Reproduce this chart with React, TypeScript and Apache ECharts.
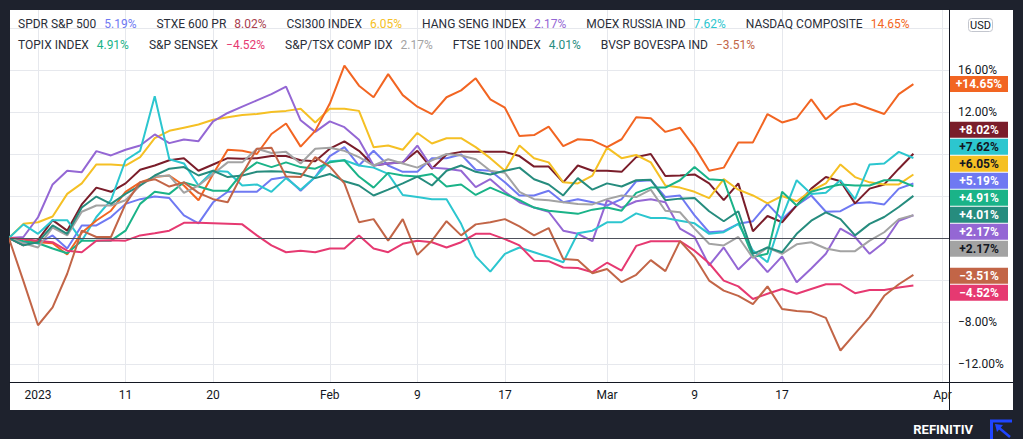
import React, { useEffect, useRef } from 'react';
import * as echarts from 'echarts';

// US trading sessions shown on the time scale (last two are future slots up to "Apr")
const sessions = [
  '2022-12-29', '2022-12-30', '2023-01-03', '2023-01-04', '2023-01-05', '2023-01-06', '2023-01-09', '2023-01-10',
  '2023-01-11', '2023-01-12', '2023-01-13', '2023-01-17', '2023-01-18', '2023-01-19', '2023-01-20', '2023-01-23',
  '2023-01-24', '2023-01-25', '2023-01-26', '2023-01-27', '2023-01-30', '2023-01-31', '2023-02-01', '2023-02-02',
  '2023-02-03', '2023-02-06', '2023-02-07', '2023-02-08', '2023-02-09', '2023-02-10', '2023-02-13', '2023-02-14',
  '2023-02-15', '2023-02-16', '2023-02-17', '2023-02-21', '2023-02-22', '2023-02-23', '2023-02-24', '2023-02-27',
  '2023-02-28', '2023-03-01', '2023-03-02', '2023-03-03', '2023-03-06', '2023-03-07', '2023-03-08', '2023-03-09',
  '2023-03-10', '2023-03-13', '2023-03-14', '2023-03-15', '2023-03-16', '2023-03-17', '2023-03-20', '2023-03-21',
  '2023-03-22', '2023-03-23', '2023-03-24', '2023-03-27', '2023-03-28', '2023-03-29', '2023-03-30', '2023-03-31',
  '2023-04-03',
];

const xTickDates = ['2023-01-03', '2023-01-11', '2023-01-20', '2023-02-01', '2023-02-09', '2023-02-17', '2023-03-01', '2023-03-09', '2023-03-17', '2023-04-03'];
const xTickLabels = ['2023', '11', '20', 'Feb', '9', '17', 'Mar', '9', '17', 'Apr'];
const yTickLabelsShown = [16, 12, -8, -12];

const seriesNames = [
  'SPDR S&P 500', 'STXE 600 PR', 'CSI300 INDEX', 'HANG SENG INDEX', 'MOEX RUSSIA IND', 'NASDAQ COMPOSITE',
  'TOPIX INDEX', 'S&P SENSEX', 'S&P/TSX COMP IDX', 'FTSE 100 INDEX', 'BVSP BOVESPA IND',
];
const seriesColors = ['#6f79f2', '#7a1d2a', '#f5c024', '#9467d4', '#2cc6cf', '#f26522', '#1ab388', '#e63971', '#a3a3a3', '#268c7e', '#c26547'];
const legendValueColors = ['#6f79f2', '#a9404f', '#f5c024', '#9467d4', '#2cc6cf', '#f26522', '#1ab388', '#e63971', '#a3a3a3', '#268c7e', '#c26547'];
const tagTextColors = ['#ffffff', '#ffffff', '#131722', '#ffffff', '#131722', '#ffffff', '#ffffff', '#ffffff', '#131722', '#ffffff', '#ffffff'];

// % change since start, one value per session (Dec 29 .. Mar 30)
const spdr = [0, -0.4, -0.5, 0.25, -1.0, 1.2, 1.2, 2.0, 3.25, 3.7,
  3.95, 3.8, 2.15, 1.4, 3.4, 4.4, 4.4, 4.4, 5.6, 5.8,
  4.5, 5.8, 7.8, 8.65, 6.9, 8.3, 6.9, 6.3, 6.3, 7.6,
  7.6, 7.95, 6.5, 6.4, 5.3, 4.05, 4.05, 4.5, 3.4, 3.7,
  3.4, 3.1, 3.7, 5.4, 5.5, 3.9, 4.05, 2.15, 0.55, 0.65,
  1.35, 1.6, 3.25, 1.8, 3.1, 4.05, 2.5, 2.55, 3.3, 3.4,
  3.2, 4.7, 5.19];
const stxe = [0, -0.7, -0.2, 1.7, 0.7, 3.2, 4.8, 4.4, 5.2, 6.5,
  6.9, 7.4, 7.6, 6.4, 7.0, 7.6, 7.55, 7.6, 7.8, 7.8,
  7.4, 7.3, 8.5, 9.2, 8.3, 6.9, 7.1, 7.2, 8.3, 6.6,
  7.95, 8.2, 8.2, 8.2, 8.2, 7.8, 6.8, 6.8, 5.3, 6.9,
  6.4, 6.4, 6.3, 7.7, 8.0, 5.9, 5.95, 6.05, 5.2, 3.6,
  5.2, 0.65, 2.1, 1.5, 3.1, 4.7, 5.8, 5.4, 3.3, 4.7,
  5.1, 6.6, 8.02];
const csi300 = [0, 1.35, 1.5, 2.05, 4.2, 5.2, 7.0, 7.0, 6.9, 7.7,
  9.5, 10.2, 10.5, 10.8, 11.25, 11.5, 11.7, 11.8, 12.0, 12.1,
  12.3, 11.0, 12.3, 12.3, 12.1, 8.65, 8.8, 8.4, 10.0, 9.0,
  9.5, 9.5, 8.65, 7.6, 6.4, 8.8, 7.6, 7.2, 5.3, 5.2,
  5.95, 8.6, 7.6, 7.9, 7.2, 5.0, 4.8, 4.4, 3.8, 5.6,
  4.6, 4.05, 3.3, 4.0, 3.5, 4.5, 5.2, 7.0, 5.8, 5.3,
  5.1, 5.1, 6.05];
const hangSeng = [0, 0.1, 1.98, 5.1, 6.4, 6.27, 8.27, 7.86, 8.4, 8.8,
  9.86, 9.03, 9.38, 9.22, 11.1, 11.9, 12.5, 13.1, 13.7, 14.4,
  11.2, 10.1, 11.1, 10.55, 9.35, 6.9, 7.1, 7.2, 8.8, 6.7,
  6.6, 6.4, 4.85, 5.6, 4.4, 3.4, 2.9, 2.5, 0.7, 0.4,
  -0.3, 3.6, 2.9, 3.5, 3.7, 3.4, 0.9, 0.1, -2.6, -0.9,
  -3.0, -1.65, -3.25, -1.75, -4.2, -2.9, -1.5, 0.9, 0.1, -1.5,
  -0.4, 1.65, 2.17];
const moex = [0, 1.3, 0.4, 1.7, 1.7, -0.25, 2.0, 3.6, 7.4, 8.3,
  13.5, 7.5, 7.1, 5.0, 6.4, 6.3, 5.0, 5.1, 4.4, 5.7,
  4.6, 5.8, 7.3, 7.4, 6.9, 6.7, 6.1, 4.1, 3.9, 3.7,
  3.7, 1.35, -1.75, -3.2, -1.5, -0.9, -1.35, -1.8, -2.3, 0.45,
  0.7, 1.5, 1.5, 2.35, 1.9, 1.9, 1.65, 1.4, 0.4, 0.55,
  1.35, -1.2, -2.3, 2.0, 5.5, 4.2, 4.3, 5.5, 3.7, 7.0,
  7.1, 8.2, 7.62];
const nasdaq = [0, -0.15, -0.4, -0.5, -1.57, 0.5, 1.67, 2.6, 4.4, 5.3,
  5.8, 5.95, 5.0, 3.6, 6.1, 8.4, 8.3, 8.0, 9.9, 10.9,
  8.7, 10.2, 12.8, 16.4, 14.5, 13.4, 15.6, 13.6, 12.5, 11.8,
  13.4, 14.05, 15.2, 13.2, 12.4, 9.7, 9.8, 10.6, 8.75, 9.4,
  9.3, 8.65, 9.4, 11.5, 11.4, 10.1, 10.5, 8.65, 6.4, 6.7,
  9.1, 9.1, 11.8, 11.0, 11.4, 13.2, 11.3, 12.5, 12.8, 12.3,
  11.8, 13.7, 14.65];
const topix = [0, -0.3, -0.5, -1.0, -1.45, -0.25, -0.25, -0.25, 0.7, 3.25,
  4.4, 4.2, 5.3, 4.9, 4.5, 4.5, 6.2, 7.2, 6.75, 7.2,
  6.75, 6.6, 7.2, 7.4, 5.85, 4.8, 6.2, 5.95, 5.85, 6.1,
  4.9, 5.1, 4.1, 4.8, 4.2, 3.6, 2.9, 2.6, 2.46, 2.3,
  2.7, 2.9, 2.6, 4.3, 4.8, 4.8, 5.5, 6.75, 5.6, 5.5,
  1.65, -1.8, -1.5, 4.4, 3.1, 4.4, 4.8, 5.1, 5.0, 5.0,
  5.5, 5.5, 4.91];
const sensex = [0, -0.1, -0.25, -0.4, -1.2, -1.35, -0.25, -0.2, -0.25, 0.25,
  0.45, 0.7, 1.45, 1.45, 1.4, 1.35, 1.3, 0.25, -0.7, -1.35,
  -1.2, -1.35, -1.0, -1.0, 0.25, -1.0, -1.35, -0.55, -0.25, -0.4,
  -0.9, -0.4, 0.4, 0.4, -0.1, -0.7, -2.15, -2.2, -2.8, -2.85,
  -3.25, -2.35, -3.1, -0.75, -0.3, -0.3, -0.3, -1.2, -2.4, -4.05,
  -4.6, -5.8, -5.3, -4.85, -5.3, -4.85, -4.4, -4.4, -5.25, -4.95,
  -4.95, -4.7, -4.52];
const tsx = [0, -0.5, -0.9, 1.0, 0.25, 2.5, 3.1, 3.1, 3.6, 5.0,
  5.85, 5.95, 4.3, 5.0, 6.1, 7.2, 7.2, 8.5, 8.1, 8.2,
  7.1, 8.5, 8.6, 8.3, 7.7, 6.9, 7.5, 7.1, 6.7, 7.4,
  8.0, 7.85, 7.5, 6.4, 6.2, 4.4, 3.7, 3.6, 3.4, 3.25,
  3.2, 3.7, 4.05, 3.9, 4.6, 2.6, 2.45, 0.9, -0.55, -0.7,
  0.1, -1.9, -0.9, -1.5, -0.6, -0.4, -1.0, -1.25, -1.25, -0.25,
  0.55, 1.8, 2.17];
const ftse = [0, -0.7, -0.4, 1.2, 0.4, 2.9, 3.95, 3.25, 4.2, 5.0,
  5.95, 6.6, 6.75, 5.95, 6.4, 5.8, 5.95, 6.3, 6.35, 6.3,
  6.1, 5.7, 6.1, 5.4, 5.0, 4.05, 4.6, 5.2, 5.85, 5.0,
  6.4, 6.9, 6.3, 6.05, 6.4, 6.7, 5.6, 5.1, 4.05, 5.7,
  4.6, 5.2, 4.9, 5.5, 5.55, 3.6, 3.75, 3.8, 2.55, 1.6,
  2.55, -1.5, -0.9, -1.35, 0.4, 1.65, 2.45, 1.8, 0.25, 1.35,
  2.0, 2.95, 4.01];
const bovespa = [0, -4.1, -8.3, -6.6, -3.4, 0.7, 0.1, 0.1, 3.25, 5.3,
  5.6, 4.9, 5.3, 4.3, 3.7, 3.4, 6.1, 8.5, 8.6, 5.85,
  5.8, 7.7, 6.8, 5.2, 1.5, 1.8, -0.25, 1.8, -1.6, -0.25,
  1.6, 0.25, 1.3, 1.5, 1.8, 1.1, 0.25, 0.95, -2.0, -2.1,
  -3.35, -2.95, -4.2, -3.5, -2.1, -3.15, -0.3, -1.8, -4.05, -5.0,
  -5.5, -6.3, -4.6, -6.75, -6.95, -7.05, -7.6, -10.7, -9.1, -7.5,
  -5.5, -4.4, -3.51];

const seriesValues = [spdr, stxe, csi300, hangSeng, moex, nasdaq, topix, sensex, tsx, ftse, bovespa];

const FONT = 'Roboto, "Noto Sans", sans-serif';
const TEXT = '#131722';

function fmtPct(v: number, sign: boolean): string {
  const s = Math.abs(v).toFixed(2) + '%';
  if (v < 0) return '\u2212' + s;
  return sign ? '+' + s : s;
}

// spread price-scale tags so they do not overlap, keeping each cluster around its values
function spreadCenters(ys: number[], h: number, bias: number): number[] {
  const order = ys.map((_, i) => i).sort((a, b) => ys[a] - ys[b]);
  const groups: number[][] = order.map((i) => [i]);
  const centerOf = (g: number[]) => g.reduce((s, i) => s + ys[i], 0) / g.length + (g.length > 1 ? bias : 0);
  let changed = true;
  while (changed) {
    changed = false;
    for (let k = 0; k < groups.length - 1; k++) {
      const a = groups[k];
      const b = groups[k + 1];
      if (centerOf(a) + (a.length * h) / 2 > centerOf(b) - (b.length * h) / 2) {
        groups.splice(k, 2, a.concat(b));
        changed = true;
        break;
      }
    }
  }
  const out: number[] = new Array(ys.length);
  groups.forEach((g) => {
    const c = centerOf(g);
    g.forEach((i, j) => {
      out[i] = c - (g.length * h) / 2 + h / 2 + j * h;
    });
  });
  return out;
}

export default function App() {
  const ref = useRef<HTMLDivElement>(null);

  useEffect(() => {
    const chart = echarts.init(ref.current as HTMLDivElement, undefined, { renderer: 'svg' });
    const tickIdx = xTickDates.map((d) => sessions.indexOf(d));
    const labelOf: Record<number, string> = {};
    tickIdx.forEach((t, k) => {
      labelOf[t] = xTickLabels[k];
    });
    const lastValues = seriesValues.map((arr) => arr[arr.length - 1]);

    const rich: Record<string, any> = { n: { color: '#2a2e39', fontSize: 12, fontFamily: FONT } };
    legendValueColors.forEach((c, i) => {
      rich['v' + i] = { color: c, fontSize: 12, fontFamily: FONT, padding: [0, 0, 0, 8] };
    });
    const legendCommon = {
      left: 13,
      padding: 0,
      itemWidth: 0,
      itemHeight: 0,
      itemGap: 15,
      icon: 'none',
      selectedMode: false,
      formatter: (name: string) => {
        const i = seriesNames.indexOf(name);
        return `{n|${name}}{v${i}|${fmtPct(lastValues[i], false)}}`;
      },
      textStyle: { rich },
    };

    const option: any = {
      animation: false,
      backgroundColor: '#1e222d',
      textStyle: { fontFamily: FONT },
      grid: { left: 10, right: 74, top: 10, bottom: 57 },
      legend: [
        { ...legendCommon, top: 18, data: seriesNames.slice(0, 6) },
        { ...legendCommon, top: 39, data: seriesNames.slice(6) },
      ],
      xAxis: {
        type: 'value',
        min: 0.08,
        max: sessions.length - 1 + 0.44,
        axisLine: { show: true, onZero: false, lineStyle: { color: TEXT, width: 1 } },
        axisTick: { show: false, customValues: tickIdx },
        axisLabel: {
          customValues: tickIdx,
          formatter: (v: number) => labelOf[Math.round(v)] ?? '',
          color: TEXT,
          fontSize: 12,
          margin: 7,
        },
        splitLine: { show: true, lineStyle: { color: '#e6e8ed', width: 1 } },
      },
      yAxis: {
        type: 'value',
        position: 'right',
        min: -13.7,
        max: 21.7,
        minInterval: 4,
        maxInterval: 4,
        axisLine: { show: true, onZero: false, lineStyle: { color: TEXT, width: 1 } },
        axisTick: { show: false },
        axisLabel: {
          margin: 9,
          color: TEXT,
          fontSize: 12,
          formatter: (v: number) => {
            const r = Math.round(v * 100) / 100;
            return yTickLabelsShown.includes(r) ? fmtPct(r, false) : '';
          },
        },
        splitLine: { show: true, showMinLine: false, showMaxLine: false, lineStyle: { color: '#e6e8ed', width: 1 } },
      },
      graphic: [
        { type: 'rect', z: -100, silent: true, shape: { x: 10, y: 10, width: 1003, height: 400 }, style: { fill: '#ffffff' } },
        { type: 'line', silent: true, shape: { x1: 949, y1: 382.5, x2: 1013, y2: 382.5 }, style: { stroke: TEXT, lineWidth: 1 } },
        { type: 'line', silent: true, shape: { x1: 949.5, y1: 382, x2: 949.5, y2: 410 }, style: { stroke: TEXT, lineWidth: 1 } },
        { type: 'rect', silent: true, shape: { x: 968.5, y: 18.5, width: 24, height: 13, r: 3 }, style: { fill: '#ffffff', stroke: '#c3c6ce', lineWidth: 1 } },
        { type: 'text', silent: true, x: 980.5, y: 25.5, style: { text: 'USD', fill: TEXT, fontSize: 11, fontFamily: FONT, align: 'center', verticalAlign: 'middle' } },
        { type: 'text', silent: true, x: 973, y: 429, style: { text: 'REFINITIV', fill: '#ffffff', fontSize: 13, fontWeight: 'bold', fontFamily: FONT, align: 'right', verticalAlign: 'middle' } },
        { type: 'polyline', silent: true, shape: { points: [[991.5, 439], [991.5, 421], [1012, 421]] }, style: { stroke: '#1f45ff', lineWidth: 3, fill: 'none' } },
        { type: 'line', silent: true, shape: { x1: 1010, y1: 437, x2: 998, y2: 427 }, style: { stroke: '#1f45ff', lineWidth: 2.5 } },
        { type: 'polygon', silent: true, shape: { points: [[995, 424], [1003, 425], [997, 432]] }, style: { fill: '#1f45ff' } },
      ],
      series: [
        ...seriesNames.map((name, i) => ({
          name,
          type: 'line',
          showSymbol: false,
          symbol: 'none',
          z: 3,
          data: seriesValues[i].map((v, j) => [j, v]),
          lineStyle: { width: 2, color: seriesColors[i] },
          itemStyle: { color: seriesColors[i] },
          emphasis: { disabled: true },
          endLabel: {
            show: true,
            formatter: () => fmtPct(lastValues[i], true),
            color: tagTextColors[i],
            backgroundColor: seriesColors[i],
            fontSize: 12,
            fontWeight: 'bold',
            fontFamily: FONT,
            width: 58,
            lineHeight: 14,
            padding: [1, 0, 1, 0],
            align: 'center',
          },
        })),
        {
          type: 'line',
          data: [],
          z: 1,
          markLine: {
            silent: true,
            symbol: ['none', 'none'],
            label: { show: false },
            lineStyle: { color: '#4e515b', width: 1, type: 'solid' },
            data: [{ yAxis: 0 }],
          },
        },
      ],
    };

    chart.setOption(option);

    const ys = lastValues.map((v) => chart.convertToPixel({ yAxisIndex: 0 }, v) as number);
    const centers = spreadCenters(ys, 17, 4);
    chart.setOption({
      series: [
        ...seriesNames.map((name, i) => ({
          name,
          labelLayout: { x: 979, y: centers[i], align: 'center', verticalAlign: 'middle' },
        })),
        {},
      ],
    });

    return () => {
      chart.dispose();
    };
  }, []);

  return <div ref={ref} style={{ position: 'absolute', left: 0, top: 0, width: 1023, height: 439 }} />;
}
